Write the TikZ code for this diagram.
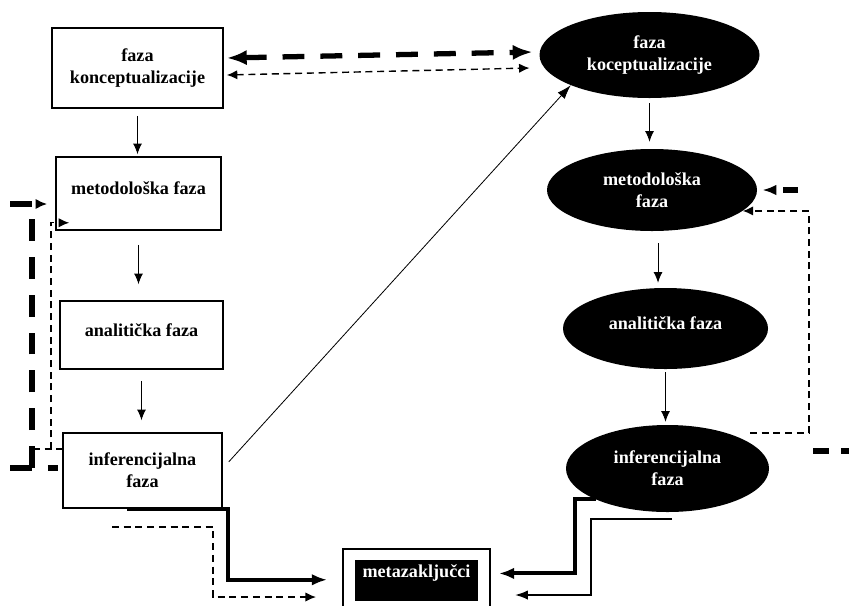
\documentclass[tikz,border=0pt]{standalone}
\usepackage{fontspec}
\setmainfont{Liberation Serif}
\usetikzlibrary{arrows.meta,fit,shapes.geometric}
\newcommand{\liftup}[1]{\raisebox{0.15cm}[\height][\depth]{#1}}
\begin{document}
\begin{tikzpicture}[x=0.03cm,y=-0.03cm,
	font=\fontsize{15.5}{18.7}\selectfont\bfseries,
	fazabox/.style={draw,line width=1.3pt,align=center,inner sep=0pt},
	fazaoval/.style={ellipse,fill=\ovalcol,text=white,align=center,inner sep=0pt},
	down/.style={-{Latex[length=9pt,width=7.5pt]},line width=0.8pt},
	bigdash/.style={line width=4.5pt,dash pattern=on 18.7pt off 13.6pt},
	smalldash/.style={line width=1.2pt,dash pattern=on 6pt off 4pt}]
	\def\ovalcol{black}
	\useasboundingbox (0,0) rectangle (849,605);
	\clip (0,0) rectangle (849,605);

	\node[fazabox,minimum width=5.13cm,minimum height=2.4cm] (konc) at (137.5,68) {faza\\konceptualizacije};
	\node[fazabox,minimum width=4.95cm,minimum height=2.19cm] (metod) at (138.5,193.5) {\liftup{metodološka faza}};
	\node[fazabox,minimum width=4.89cm,minimum height=2.04cm] (anal) at (141.5,335) {\liftup{analitička faza}};
	\node[fazabox,minimum width=4.77cm,minimum height=2.25cm] (infer) at (142.5,470.5) {inferencijalna\\faza};

	\node[fazaoval,minimum width=6.6cm,minimum height=2.58cm] (ekonc) at (649.5,55) {faza\\koceptualizacije};
	\node[fazaoval,minimum width=6.3cm,minimum height=2.46cm] (emetod) at (652,190) {metodološka\\faza};
	\node[fazaoval,minimum width=6.15cm,minimum height=2.43cm] (eanal) at (665.5,328.5) {\liftup{analitička faza}};
	\node[fazaoval,minimum width=6.09cm,minimum height=2.61cm] (einfer) at (667.5,468.5) {inferencijalna\\faza};

	\node[fill=\ovalcol,text=white,inner sep=0pt,minimum width=3.69cm,text height=0.51cm,text depth=0.72cm,anchor=base] (meta) at (416.5,577) {metazaključci};
	\node[draw,line width=1.3pt,fit=(meta),inner xsep=0.36cm,inner ysep=0.33cm] (metaframe) {};

	\draw[down,shorten <=0.21cm,shorten >=0.06cm] (konc.south) -- (konc.south |- metod.north);
	\draw[down,shorten <=0.42cm,shorten >=0.48cm] (metod.south) -- (metod.south |- anal.north);
	\draw[down,shorten <=0.33cm,shorten >=0.36cm] (anal.south) -- (anal.south |- infer.north);
	\draw[down,shorten <=0.15cm,shorten >=0.21cm] (ekonc.south) -- (ekonc.south |- emetod.north);
	\draw[down,shorten <=0.36cm,shorten >=0.15cm] ([xshift=0.18cm]emetod.south) -- ([xshift=0.18cm]emetod.south |- eanal.north);
	\draw[down,shorten <=0.09cm,shorten >=0.09cm] (eanal.south) -- (eanal.south |- einfer.north);

	\draw[bigdash,{Latex[length=17pt,width=13pt]}-{Latex[length=17pt,width=13pt]}] ([xshift=0.09cm,yshift=0.3cm]konc.east) -- ([xshift=-0.2cm,yshift=0.09cm]ekonc.west);
	\draw[smalldash,{Latex[length=9pt,width=8pt]}-{Latex[length=9pt,width=8pt]}] ([xshift=0.09cm,yshift=-0.21cm]konc.east) -- ([xshift=-0.29cm,yshift=-0.39cm]ekonc.west);
	\draw[line width=0.7pt,-{Latex[length=12pt,width=8pt]}] ([xshift=0.18cm,yshift=0.26cm]infer.east) -- (ekonc.201);

	\coordinate (lbot) at (10,468);
	\coordinate (ltop) at (10,204);
	\draw[bigdash] (lbot) -- ++(48,0);
	\draw[bigdash] (lbot) ++(22,0) -- ++(0,-256);
	\draw[bigdash,-{Latex[length=10pt,width=9pt]},shorten >=0.24cm] (ltop) -- (ltop -| metod.west);

	\coordinate (lthin) at (33,449);
	\draw[smalldash] (lthin) -- (lthin -| infer.west);
	\draw[smalldash,-{Latex[length=9pt,width=8pt]}] (lthin) ++(18,0) |- ([xshift=0.42cm,yshift=0.24cm]metod.south west);

	\draw[line width=3.4pt,-{Latex[length=13pt,width=10pt]},shorten >=0.45cm] ([xshift=-0.47cm]infer.south) -- ++(101,0) -- ++(0,71) coordinate (lbend) -- (lbend -| metaframe.west);
	\coordinate (bdash) at (112,527);
	\draw[smalldash,-{Latex[length=9pt,width=8pt]},shorten >=0.78cm] (bdash) -- ++(101,0) -- ++(0,70) coordinate (dbend) -- (dbend -| metaframe.west);

	\draw[line width=3.4pt,-{Latex[length=13pt,width=10pt]},shorten >=0.24cm] (einfer.south west) -- ++(-21,0) -- ++(0,74) coordinate (rbend) -- (rbend -| metaframe.east);
	\coordinate (rthin) at (672,519);
	\draw[line width=1.5pt,-{Latex[length=11pt,width=8pt]},shorten >=0.72cm] (rthin) -- ++(-81,0) -- ++(0,76) coordinate (tbend) -- (tbend -| metaframe.east);

	\coordinate (rbig) at (813,451);
	\coordinate (rbigtop) at (798,190);
	\draw[bigdash,dash pattern=on 13.6pt off 10.2pt] (rbig) -- ++(47,0);
	\draw[bigdash,dash pattern=on 13pt off 6pt,-{Latex[length=12pt,width=9pt]},shorten >=0.15cm] (rbigtop) -- (emetod.east);
	\coordinate (rsmall) at (750,433);
	\draw[smalldash,-{Latex[length=9pt,width=8pt]}] (rsmall) -- ++(59,0) |- (emetod.-13);
\end{tikzpicture}
\end{document}
